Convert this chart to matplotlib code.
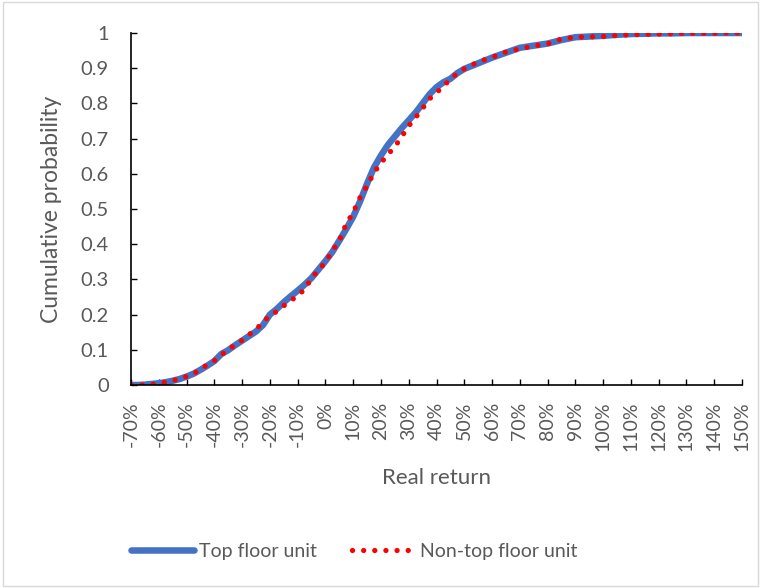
import matplotlib
matplotlib.use('Agg')
import matplotlib.pyplot as plt
from matplotlib.patches import Rectangle

plt.rcParams['font.family'] = ['Lato', 'DejaVu Sans']

# real return (%) and cumulative probability
returns = [-70, -67.5, -65, -62.5, -60, -57.5, -55, -52.5, -50, -47.5, -45, -42.5,
           -40, -37.5, -35, -32.5, -30, -27.5, -25, -22.5, -20, -17.5, -15, -12.5,
           -10, -7.5, -5, -2.5, 0, 2.5, 5, 7.5, 10, 12.5, 15, 17.5, 20, 22.5, 25,
           27.5, 30, 32.5, 35, 37.5, 40, 42.5, 45, 47.5, 50, 55, 60, 65, 70, 75,
           80, 85, 90, 95, 100, 105, 110, 115, 120, 125, 130, 135, 140, 145, 150]

top_floor = [0.000, 0.000, 0.001, 0.003, 0.005, 0.008, 0.012, 0.017, 0.024, 0.032,
             0.043, 0.055, 0.068, 0.088, 0.099, 0.113, 0.126, 0.139, 0.152, 0.170,
             0.200, 0.216, 0.235, 0.252, 0.268, 0.285, 0.304, 0.328, 0.352, 0.378,
             0.410, 0.443, 0.478, 0.522, 0.572, 0.618, 0.652, 0.682, 0.706, 0.730,
             0.752, 0.774, 0.800, 0.826, 0.846, 0.860, 0.870, 0.886, 0.898, 0.914,
             0.930, 0.944, 0.958, 0.964, 0.970, 0.980, 0.988, 0.990, 0.992, 0.995,
             0.997, 0.998, 0.999, 0.999, 1.000, 1.000, 1.000, 1.000, 1.000]

non_top_floor = [0.000, 0.000, 0.000, 0.002, 0.004, 0.008, 0.012, 0.019, 0.024, 0.031,
                 0.046, 0.057, 0.069, 0.085, 0.101, 0.114, 0.127, 0.143, 0.158, 0.178,
                 0.198, 0.209, 0.225, 0.240, 0.253, 0.272, 0.303, 0.327, 0.348, 0.382,
                 0.410, 0.458, 0.490, 0.533, 0.566, 0.603, 0.631, 0.655, 0.677, 0.706,
                 0.736, 0.760, 0.786, 0.813, 0.830, 0.850, 0.868, 0.886, 0.898, 0.918,
                 0.931, 0.946, 0.955, 0.963, 0.969, 0.983, 0.988, 0.989, 0.990, 0.993,
                 0.995, 0.996, 0.997, 0.998, 0.999, 0.999, 0.999, 1.000, 1.000]

xticks = list(range(-70, 151, 10))
yticks = [i / 10 for i in range(11)]

grey = '#595959'

fig = plt.figure(figsize=(7.61, 5.88), dpi=100)
fig.patches.append(Rectangle((0.004, 0.004), 0.992, 0.992, transform=fig.transFigure,
                             fill=False, edgecolor='#d9d9d9', linewidth=1))
ax = fig.add_axes([131/761, 1-385/588, (742-131)/761, (385-33)/588])

ax.plot(returns, top_floor, color='#4472C4', linewidth=4.7, solid_capstyle='round',
        label='Top floor unit')
ax.plot(returns, non_top_floor, color='#FF0000', linewidth=3.8,
        linestyle=(0, (0.01, 2.1)), dash_capstyle='round', label='Non-top floor unit')

ax.set_xlim(-70, 150)
ax.set_ylim(0, 1)
ax.set_xticks(xticks)
ax.set_xticklabels(['%d%%' % t for t in xticks], rotation=90, color=grey, fontsize=14)
ax.set_yticks(yticks)
ax.set_yticklabels(['%g' % t for t in yticks], color=grey, fontsize=14.5)
ax.tick_params(axis='both', direction='in', length=4.5, width=1, color='black')
ax.tick_params(axis='x', pad=12)
ax.tick_params(axis='y', pad=16)
for s in ['top', 'right']:
    ax.spines[s].set_visible(False)
for s in ['left', 'bottom']:
    ax.spines[s].set_linewidth(1.2)

ax.set_xlabel('Real return', color=grey, fontsize=16)
ax.set_ylabel('Cumulative probability', color=grey, fontsize=16.5)
ax.xaxis.set_label_coords(0.5, -0.237)
ax.yaxis.set_label_coords(-0.113, 0.5)

fig.legend(loc='center', bbox_to_anchor=(354.5/761, 1-551/588), ncol=2, frameon=False,
           fontsize=14, labelcolor=grey, handlelength=3.2, columnspacing=1.8,
           handletextpad=0.3)

fig.savefig('out.png', dpi=100)
